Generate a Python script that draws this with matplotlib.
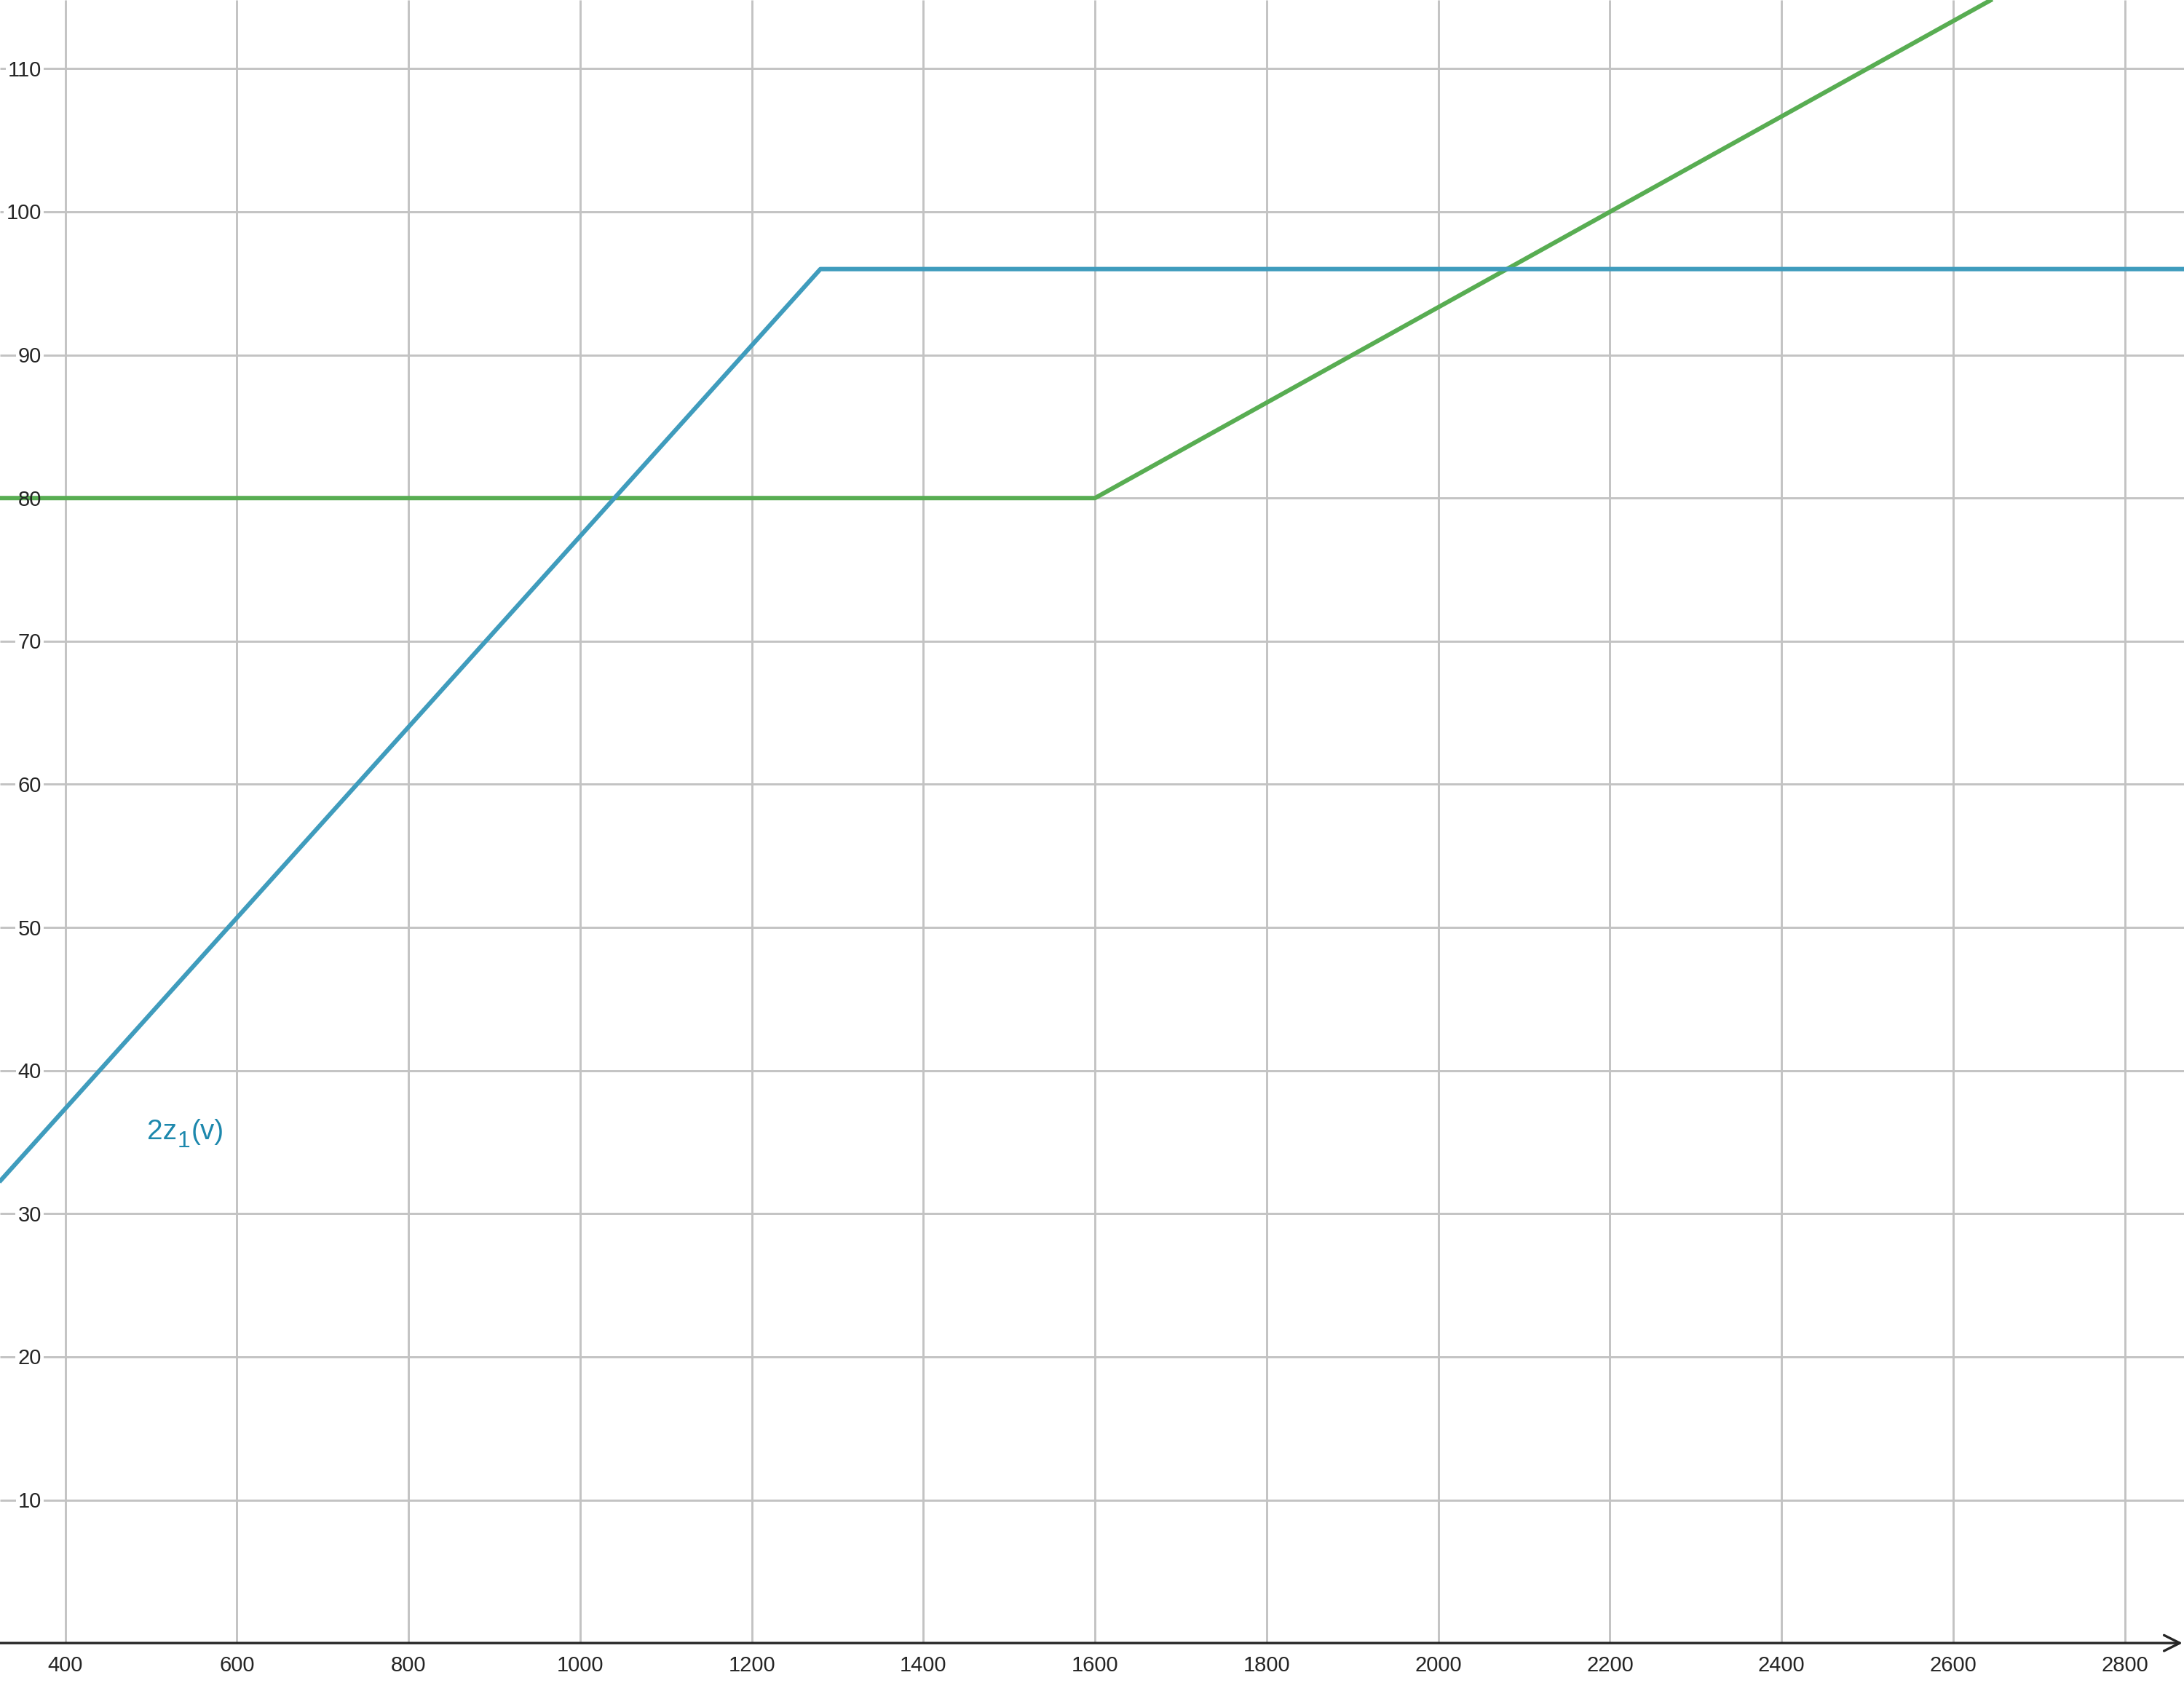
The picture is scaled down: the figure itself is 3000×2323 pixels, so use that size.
import matplotlib
matplotlib.use("Agg")
import matplotlib.pyplot as plt
import matplotlib.transforms as mtransforms

plt.rcParams['font.family'] = ['Liberation Sans', 'DejaVu Sans']

# Data
blue_v = [300, 1280, 2900]
blue_y = [30.67, 96, 96]
green_v = [300, 1600, 2900]
green_y = [80, 80, 123.33]
x_ticks = [400, 600, 800, 1000, 1200, 1400, 1600, 1800, 2000, 2200, 2400, 2600, 2800]
y_ticks = [10, 20, 30, 40, 50, 60, 70, 80, 90, 100, 110]
label_parts = ['2z', '1', '(v)']
label_pos = (495, 35.2)

XMIN, XMAX = 324, 2869
YMIN, YMAX = -3.35, 114.8

fig = plt.figure(figsize=(10, 2323/300), dpi=300)
ax = fig.add_axes([0, 0, 1, 1])
ax.set_xlim(XMIN, XMAX)
ax.set_ylim(YMIN, YMAX)
for s in ax.spines.values():
    s.set_visible(False)
ax.set_xticks([])
ax.set_yticks([])

grid_c = '#c3c3c3'
ax.vlines(x_ticks, 0, YMAX, colors=grid_c, lw=0.7, zorder=1)
ax.hlines(y_ticks, XMIN, XMAX, colors=grid_c, lw=0.7, zorder=1)

# x axis with arrow
ax.annotate('', xy=(1.0, 0), xycoords=('axes fraction', 'data'),
            xytext=(0.0, 0), textcoords=('axes fraction', 'data'),
            arrowprops=dict(arrowstyle='->', color='#252525', lw=0.8,
                            mutation_scale=13, shrinkA=0, shrinkB=0.5),
            zorder=3)

ax.plot(green_v, green_y, color='#58ad52', lw=1.45, zorder=4, solid_capstyle='butt')
ax.plot(blue_v, blue_y, color='#3f9cbd', lw=1.45, zorder=5, solid_capstyle='butt')

# curve label with subscript
lab_c = '#1d88ad'
fs_lab = 9.3
t1 = ax.text(label_pos[0], label_pos[1], label_parts[0], color=lab_c, fontsize=fs_lab,
             ha='left', va='baseline', zorder=6)
fig.canvas.draw()
r = fig.canvas.get_renderer()
bb = t1.get_window_extent(r)
off1 = mtransforms.offset_copy(ax.transData, fig=fig, x=bb.width * 72 / fig.dpi + 0.3,
                               y=-2.6, units='points')
t2 = ax.text(label_pos[0], label_pos[1], label_parts[1], color=lab_c, fontsize=fs_lab * 0.82,
             ha='left', va='baseline', zorder=6, transform=off1)
bb2 = t2.get_window_extent(r)
off2 = mtransforms.offset_copy(ax.transData, fig=fig,
                               x=(bb.width + bb2.width) * 72 / fig.dpi + 0.5,
                               y=0, units='points')
ax.text(label_pos[0], label_pos[1], label_parts[2], color=lab_c, fontsize=fs_lab,
        ha='left', va='baseline', zorder=6, transform=off2)

# tick labels
tick_fs = 7.0
half_digit = 0.716 * tick_fs / 2
trans_y = mtransforms.blended_transform_factory(ax.transAxes, ax.transData)
trans_y_off = mtransforms.offset_copy(trans_y, fig=fig, y=-half_digit, units='points')
for yv in y_ticks:
    ax.text(57/3000, yv, str(yv), transform=trans_y_off, ha='right', va='baseline',
            fontsize=tick_fs, color='white', zorder=2,
            bbox=dict(fc='white', ec='none', pad=0.8))
    ax.text(57/3000, yv, str(yv), transform=trans_y_off, ha='right', va='baseline',
            fontsize=tick_fs, color='#252525', zorder=7)
for xv in x_ticks:
    ax.text(xv, -1.96, str(xv), ha='center', va='baseline', fontsize=tick_fs,
            color='#252525', zorder=6)

fig.savefig('out.png', dpi=300)
